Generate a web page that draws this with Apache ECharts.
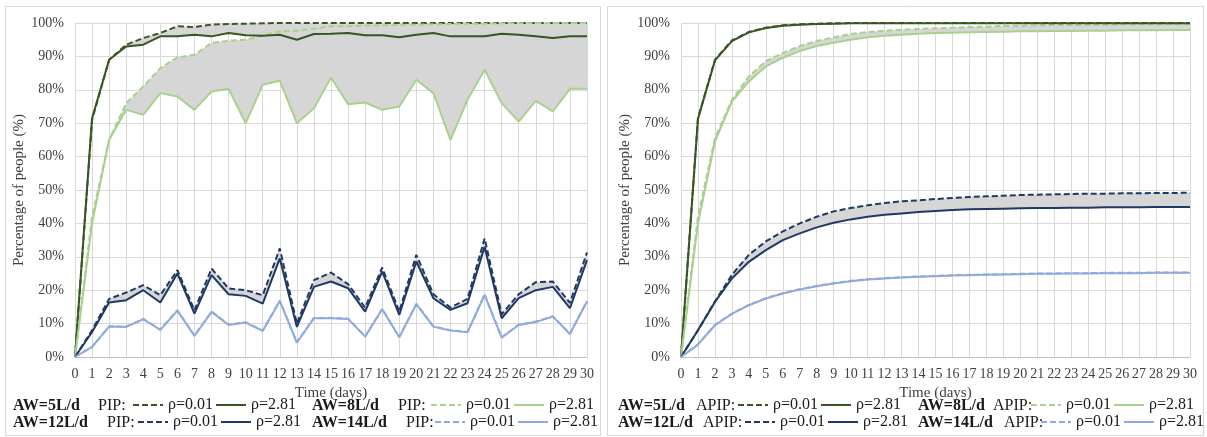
<!DOCTYPE html>
<html>
<head>
<meta charset="utf-8">
<script src="https://cdn.jsdelivr.net/npm/echarts@6/dist/echarts.min.js"></script>
<style>
  html, body { margin: 0; padding: 0; background: #fff; }
  #chart { width: 1207px; height: 437px; }
</style>
</head>
<body>
<div id="chart"></div>
<script>
// -----------------------------------------------------------------------------
// Data (percentage of people, days 0..30)
// -----------------------------------------------------------------------------
const days = ["0","1","2","3","4","5","6","7","8","9","10","11","12","13","14","15",
  "16","17","18","19","20","21","22","23","24","25","26","27","28","29","30"];

// PIP (left panel)
const pip5Low = [0, 71, 89, 93.5, 95.5, 97, 99, 98.8, 99.5, 99.7, 99.8, 99.9, 100, 100, 100, 100,
  100, 100, 100, 100, 100, 100, 100, 100, 100, 100, 100, 100, 100, 100, 100];
const pip5High = [0, 71.5, 89, 93, 93.5, 96, 96, 96.5, 96, 97, 96.3, 96.2, 96.5, 95, 96.7, 96.8,
  97, 96.3, 96.3, 95.7, 96.5, 97, 96, 96, 96, 96.8, 96.5, 96, 95.5, 96, 96];
const pip8Low = [0, 42, 65, 76, 81, 86.5, 89.7, 90.5, 94, 94.7, 95, 96.3, 97.5, 97.7, 98.3, 99,
  99, 99.2, 99.3, 99.4, 99.5, 99.6, 99.7, 99.8, 99.8, 99.9, 99.9, 100, 100, 100, 100];
const pip8High = [0, 40, 65, 74, 72.5, 79, 78, 74, 79.5, 80.3, 70, 81.5, 82.7, 70, 74.5, 83.7,
  75.7, 76.2, 74, 75, 83, 79, 65, 77, 86, 76, 70.5, 76.7, 73.5, 80.3, 80.3];
const pip12Low = [0, 8, 17.4, 19.3, 21.5, 18.5, 26, 14, 26.5, 20.5, 20, 18.5, 32.5, 10, 23, 25.3,
  21.8, 14.8, 26.8, 13.6, 30.6, 18.8, 14.8, 17.4, 35.5, 12.8, 18.8, 22.4, 22.6, 16.2, 31.3];
const pip12High = [0, 7.5, 16.3, 17, 20, 16.3, 25, 13, 24.5, 18.8, 18.3, 16, 29.5, 9, 21, 22.6,
  20.6, 13.6, 25.6, 12.6, 28.6, 17.6, 14.1, 16.1, 33, 11.6, 17.6, 20, 21, 14.6, 29];
const pip14Low = [0, 3, 9.2, 9.1, 11.4, 8.2, 14, 6.4, 13.6, 9.7, 10.4, 7.9, 16.9, 4.4, 11.7, 11.7,
  11.5, 6.2, 14.4, 6, 15.9, 9.2, 8, 7.5, 18.7, 5.9, 9.7, 10.6, 12.2, 7, 16.7];
const pip14High = [0, 3, 9.1, 9, 11.3, 8.1, 13.9, 6.3, 13.5, 9.6, 10.3, 7.8, 16.8, 4.3, 11.6, 11.6,
  11.4, 6.1, 14.3, 5.9, 15.8, 9.1, 7.9, 7.4, 18.6, 5.8, 9.6, 10.5, 12.1, 6.9, 16.6];

// APIP (right panel)
const apip5Low = [0, 71.5, 89, 94.8, 97.3, 98.6, 99.3, 99.6, 99.8, 99.9, 100, 100, 100, 100, 100, 100,
  100, 100, 100, 100, 100, 100, 100, 100, 100, 100, 100, 100, 100, 100, 100];
const apip5High = [0, 71.3, 88.8, 94.6, 97.2, 98.5, 99.2, 99.5, 99.7, 99.8, 99.9, 99.9, 99.9, 99.9, 99.9, 99.9,
  99.9, 99.9, 99.9, 99.9, 99.9, 99.9, 99.9, 99.9, 99.9, 99.9, 99.9, 99.9, 99.9, 99.9, 99.9];
const apip8Low = [0, 42, 65.5, 77, 84, 88.6, 91, 93.1, 94.6, 95.7, 96.7, 97.3, 97.7, 98, 98.2, 98.4,
  98.6, 98.8, 98.9, 99.1, 99.2, 99.3, 99.4, 99.4, 99.5, 99.5, 99.6, 99.6, 99.6, 99.7, 99.7];
const apip8High = [0, 40, 64.5, 76.5, 82.5, 87, 89.6, 91.6, 93.1, 94.1, 95, 95.7, 96.2, 96.5, 96.8, 97,
  97.1, 97.2, 97.3, 97.4, 97.5, 97.5, 97.6, 97.6, 97.7, 97.7, 97.8, 97.8, 97.8, 97.9, 97.9];
const apip12Low = [0, 8, 16.6, 24.6, 30.6, 34.6, 37.6, 40, 42, 43.6, 44.6, 45.4, 46.1, 46.6, 46.9, 47.3,
  47.6, 47.9, 48.1, 48.3, 48.5, 48.6, 48.7, 48.8, 48.9, 48.9, 49, 49, 49.1, 49.1, 49.2];
const apip12High = [0, 8, 16.5, 23.5, 28.5, 32, 35, 37, 38.8, 40.2, 41.2, 42, 42.6, 43, 43.4, 43.7,
  44, 44.2, 44.3, 44.4, 44.5, 44.6, 44.6, 44.7, 44.7, 44.8, 44.8, 44.8, 44.9, 44.9, 44.9];
const apip14Low = [0, 3.8, 9.6, 13, 15.6, 17.6, 19.1, 20.3, 21.3, 22.1, 22.8, 23.3, 23.6, 23.9, 24.1, 24.3,
  24.5, 24.6, 24.7, 24.8, 24.9, 25, 25, 25.1, 25.1, 25.2, 25.2, 25.2, 25.3, 25.3, 25.3];
const apip14High = [0, 3.7, 9.5, 12.9, 15.5, 17.5, 19, 20.2, 21.2, 22, 22.7, 23.2, 23.5, 23.8, 24, 24.2,
  24.4, 24.5, 24.6, 24.7, 24.8, 24.9, 24.9, 25, 25, 25.1, 25.1, 25.1, 25.2, 25.2, 25.2];

// -----------------------------------------------------------------------------
// Styles
// -----------------------------------------------------------------------------
const FONT = "'Liberation Serif', 'Times New Roman', serif";
const colors = { 5: "#375623", 8: "#a9d18e", 12: "#1f3864", 14: "#8faadc" };
const BAND = "#d6d6d6";
const GRID_LINE = "#d9d9d9";

const panels = [
  { key: "L", grid: { left: 75, right: 620, top: 23, bottom: 80 },
    sets: { 5: [pip5Low, pip5High], 8: [pip8Low, pip8High], 12: [pip12Low, pip12High], 14: [pip14Low, pip14High] } },
  { key: "R", grid: { left: 681, right: 17, top: 23, bottom: 80 },
    sets: { 5: [apip5Low, apip5High], 8: [apip8Low, apip8High], 12: [apip12Low, apip12High], 14: [apip14Low, apip14High] } },
];

const chart = echarts.init(document.getElementById("chart"), null, { renderer: "canvas" });

const series = [];
const legendLabel = {};

panels.forEach((p, pi) => {
  [5, 8, 12, 14].forEach((aw) => {
    const [low, high] = p.sets[aw];
    const base = low.map((v, i) => Math.min(v, high[i]));
    const diff = low.map((v, i) => Math.abs(v - high[i]));
    const stack = `${p.key}band${aw}`;
    // shaded band between the two rho curves
    series.push({
      type: "line", xAxisIndex: pi, yAxisIndex: pi, stack, data: base,
      symbol: "none", silent: true, lineStyle: { opacity: 0 }, z: 1,
    });
    series.push({
      type: "line", xAxisIndex: pi, yAxisIndex: pi, stack, data: diff,
      symbol: "none", silent: true, lineStyle: { opacity: 0 },
      areaStyle: { color: BAND, opacity: 1 }, z: 1,
    });
  });
  [5, 8, 12, 14].forEach((aw) => {
    const [low, high] = p.sets[aw];
    const dName = `${p.key}${aw}d`;
    const sName = `${p.key}${aw}s`;
    legendLabel[dName] = "ρ=0.01";
    legendLabel[sName] = "ρ=2.81";
    series.push({
      name: dName, type: "line", xAxisIndex: pi, yAxisIndex: pi, data: low,
      symbol: "none", z: 3,
      lineStyle: { color: colors[aw], width: 2, type: [6, 3] }, itemStyle: { color: colors[aw] },
    });
    series.push({
      name: sName, type: "line", xAxisIndex: pi, yAxisIndex: pi, data: high,
      symbol: "none", z: 4,
      lineStyle: { color: colors[aw], width: 2 }, itemStyle: { color: colors[aw] },
    });
  });
});

// legend rows: [panel, aw, "AW" x, prefix x, legend x, row y]
const legendRows = [
  ["L", 5, 13, 98, 132, 406],
  ["L", 8, 312, 398, 430, 406],
  ["L", 12, 13, 107, 137, 423],
  ["L", 14, 312, 406, 434, 423],
  ["R", 5, 618, 696, 737, 406],
  ["R", 8, 918, 993, 1030, 406],
  ["R", 12, 618, 703, 744, 423],
  ["R", 14, 918, 1004, 1040, 423],
];

const legends = legendRows.map(([pk, aw, , , lx, ly]) => ({
  data: [`${pk}${aw}d`, `${pk}${aw}s`],
  left: lx, top: ly - 9, padding: 0,
  itemWidth: 30, itemHeight: 10, itemGap: 2,
  selectedMode: false,
  itemStyle: { opacity: 0 },
  formatter: (name) => legendLabel[name],
  textStyle: { fontFamily: FONT, fontSize: 16, color: "#1a1a1a" },
}));

const graphics = [
  { type: "rect", shape: { x: 5.5, y: 6.5, width: 595, height: 429 }, style: { fill: null, stroke: "#d9d9d9", lineWidth: 1 }, silent: true },
  { type: "rect", shape: { x: 607.5, y: 6.5, width: 596, height: 429 }, style: { fill: null, stroke: "#d9d9d9", lineWidth: 1 }, silent: true },
];
legendRows.forEach(([pk, aw, ax, px, , ly]) => {
  graphics.push({
    type: "text", x: ax, y: ly, silent: true,
    style: { text: `AW=${aw}L/d`, font: `bold 16px ${FONT}`, fill: "#1a1a1a", verticalAlign: "middle" },
  });
  graphics.push({
    type: "text", x: px, y: ly, silent: true,
    style: { text: pk === "L" ? "PIP:" : "APIP:", font: `16px ${FONT}`, fill: "#1a1a1a", verticalAlign: "middle" },
  });
});

const makeX = (gi) => ({
  type: "category", gridIndex: gi, data: days, boundaryGap: false,
  name: "Time (days)", nameLocation: "middle", nameGap: 26,
  nameTextStyle: { fontFamily: FONT, fontSize: 15, color: "#404040" },
  axisLine: { lineStyle: { color: "#bfbfbf" } },
  axisTick: { show: false },
  axisLabel: { interval: 0, fontFamily: FONT, fontSize: 14, color: "#404040", margin: 10 },
  splitLine: { show: true, interval: 0, lineStyle: { color: GRID_LINE } },
});
const makeY = (gi) => ({
  type: "value", gridIndex: gi, min: 0, max: 100, interval: 10,
  name: "Percentage of people (%)", nameLocation: "middle", nameGap: 48,
  nameTextStyle: { fontFamily: FONT, fontSize: 15, color: "#404040" },
  axisLine: { show: false }, axisTick: { show: false },
  axisLabel: { formatter: "{value}%", fontFamily: FONT, fontSize: 14, color: "#404040", margin: 11 },
  splitLine: { lineStyle: { color: GRID_LINE } },
});

chart.setOption({
  animation: false,
  backgroundColor: "#fff",
  grid: panels.map((p) => p.grid),
  xAxis: [makeX(0), makeX(1)],
  yAxis: [makeY(0), makeY(1)],
  legend: legends,
  graphic: graphics,
  series,
});
</script>
</body>
</html>
